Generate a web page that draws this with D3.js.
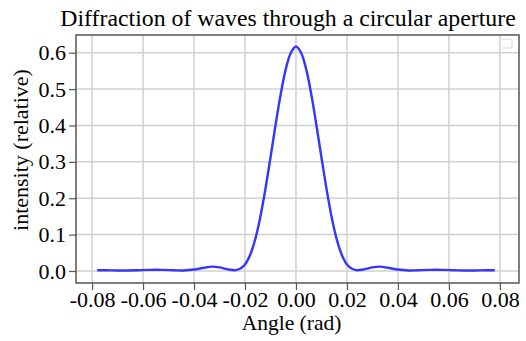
<!DOCTYPE html>
<html>
<head>
<meta charset="utf-8">
<script src="https://cdn.jsdelivr.net/npm/d3@7"></script>
<style>
  body { margin: 0; background: #fff; }
  svg { display: block; }
</style>
</head>
<body>
<div class="graph"></div>
<script>
// angle (rad) and relative intensity
const angles = [-0.078, -0.074, -0.070, -0.066, -0.062, -0.058, -0.055, -0.052, -0.048, -0.044,
                -0.040, -0.036, -0.033, -0.030, -0.027, -0.024, -0.022, -0.020, -0.018, -0.016,
                -0.014, -0.012, -0.010, -0.008, -0.006, -0.004, -0.002, 0.000,
                0.002, 0.004, 0.006, 0.008, 0.010, 0.012, 0.014, 0.016, 0.018, 0.020,
                0.022, 0.024, 0.027, 0.030, 0.033, 0.036, 0.040, 0.044, 0.048, 0.052,
                0.055, 0.058, 0.062, 0.066, 0.070, 0.074, 0.078]
const intensity = [0.002, 0.002, 0.0015, 0.0015, 0.002, 0.003, 0.0035, 0.003, 0.002, 0.0015,
                   0.004, 0.009, 0.012, 0.010, 0.005, 0.002, 0.006, 0.018, 0.044, 0.087,
                   0.148, 0.225, 0.312, 0.402, 0.486, 0.555, 0.600, 0.617,
                   0.600, 0.555, 0.486, 0.402, 0.312, 0.225, 0.148, 0.087, 0.044, 0.018,
                   0.006, 0.002, 0.005, 0.010, 0.012, 0.009, 0.004, 0.0015, 0.002, 0.003,
                   0.0035, 0.003, 0.002, 0.0015, 0.0015, 0.002, 0.002]
const xTicks = [-0.08, -0.06, -0.04, -0.02, 0.00, 0.02, 0.04, 0.06, 0.08]
const yTicks = [0.0, 0.1, 0.2, 0.3, 0.4, 0.5, 0.6]

const data = angles.map((a, i) => ({x: a, y: intensity[i]}))

const width = 526, height = 341
const margin = {top: 35, right: 7, bottom: 58, left: 76}

const svg = d3.select(".graph").append("svg")
    .attr("width", width)
    .attr("height", height)
    .style("font-family", "'Liberation Serif', 'Times New Roman', serif")

const scaleX = d3.scaleLinear()
    .domain([-0.0863, 0.0875])
    .range([margin.left, width - margin.right])

const scaleY = d3.scaleLinear()
    .domain([-0.033, 0.6487])
    .range([height - margin.bottom, margin.top])

// grid
svg.append("g")
    .selectAll("line")
    .data(xTicks)
    .join("line")
    .attr("x1", d => scaleX(d)).attr("x2", d => scaleX(d))
    .attr("y1", margin.top).attr("y2", height - margin.bottom)
    .attr("stroke", "#d0d0d0").attr("stroke-width", 1.5)

svg.append("g")
    .selectAll("line")
    .data(yTicks)
    .join("line")
    .attr("x1", margin.left).attr("x2", width - margin.right)
    .attr("y1", d => scaleY(d)).attr("y2", d => scaleY(d))
    .attr("stroke", "#d0d0d0").attr("stroke-width", 1.5)

// small legend box in the corner
svg.append("path")
    .attr("d", `M${width - margin.right - 17},${margin.top + 4} h8 a2,2 0 0 1 2,2 v5 a2,2 0 0 1 -2,2 h-8`)
    .attr("fill", "none").attr("stroke", "#dcdcdc").attr("stroke-width", 1.2)

// curve
const line = d3.line()
    .x(d => scaleX(d.x))
    .y(d => scaleY(d.y))
    .curve(d3.curveCatmullRom.alpha(0.5))

svg.append("path")
    .datum(data)
    .attr("d", line)
    .attr("fill", "none")
    .attr("stroke", "#3535ff")
    .attr("stroke-width", 2.4)

// frame
svg.append("rect")
    .attr("x", margin.left).attr("y", margin.top)
    .attr("width", width - margin.left - margin.right)
    .attr("height", height - margin.top - margin.bottom)
    .attr("fill", "none").attr("stroke", "#555").attr("stroke-width", 1.5)

// axes
const xAxis = g => g
    .attr("transform", `translate(0, ${height - margin.bottom})`)
    .call(d3.axisBottom(scaleX).tickValues(xTicks).tickFormat(d => d.toFixed(2)).tickSize(7).tickPadding(1))
    .call(g => g.select(".domain").remove())

const yAxis = g => g
    .attr("transform", `translate(${margin.left}, 0)`)
    .call(d3.axisLeft(scaleY).tickValues(yTicks).tickFormat(d => d.toFixed(1)).tickSize(7).tickPadding(3))
    .call(g => g.select(".domain").remove())

svg.append("g").call(xAxis)
    .style("font-family", "'Liberation Serif', serif").style("font-size", "22px")
svg.append("g").call(yAxis)
    .style("font-family", "'Liberation Serif', serif").style("font-size", "22px")
svg.selectAll(".tick line").attr("stroke", "#555").attr("stroke-width", 1.2)
svg.selectAll(".tick text").attr("fill", "#000")

// titles
svg.append("text")
    .attr("x", 288).attr("y", 26)
    .attr("text-anchor", "middle")
    .style("font-size", "23.8px")
    .text("Diffraction of waves through a circular aperture")

svg.append("text")
    .attr("x", 291.5).attr("y", 330)
    .attr("text-anchor", "middle")
    .style("font-size", "21.5px")
    .text("Angle (rad)")

svg.append("text")
    .attr("transform", `translate(28, 150) rotate(-90)`)
    .attr("text-anchor", "middle")
    .style("font-size", "22px")
    .text("intensity (relative)")
</script>
</body>
</html>
